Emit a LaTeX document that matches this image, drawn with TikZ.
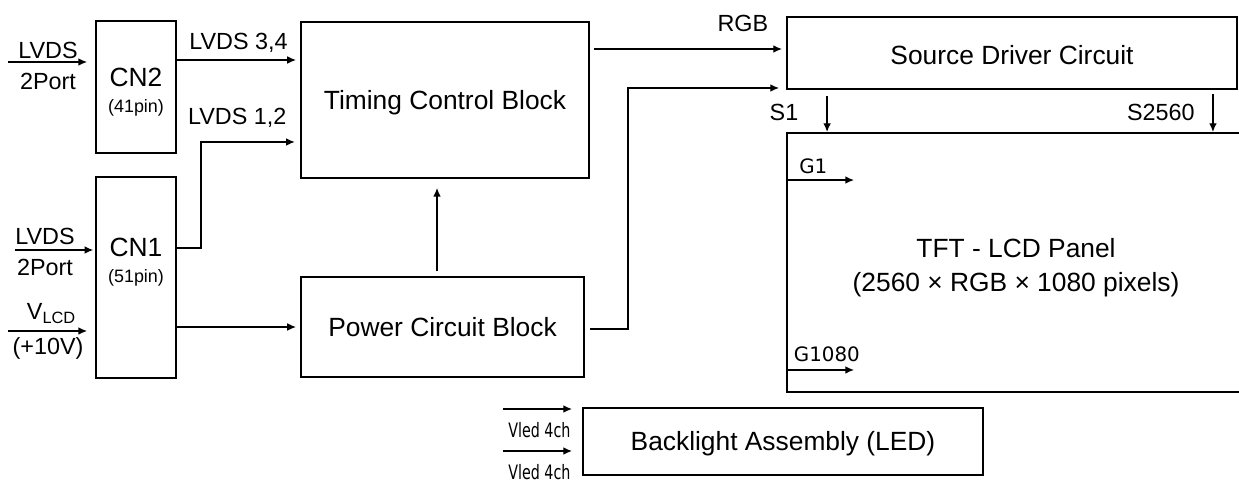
\documentclass[tikz,border=0pt]{standalone}
\usepackage{fontspec}
\setmainfont{Liberation Sans}
\newfontfamily\gatefont{DejaVu Sans}
\newfontfamily\ledfont[FakeStretch=0.72]{DejaVu Sans}
\usetikzlibrary{arrows.meta, positioning}

\begin{document}
\begin{tikzpicture}[x=0.02cm, y=-0.02cm,
    blk/.style={draw, line width=1.1pt, inner sep=0pt, align=center, font=\fontsize{15}{18}\selectfont},
    one/.style={text height=10.7pt, text depth=0pt},
    txt/.style={align=center, inner sep=0pt, font=\fontsize{15}{18}\selectfont},
    sig/.style={line width=0.8pt, -{Latex[length=5pt,width=4.4pt]}},
    lbl/.style={inner sep=0pt, font=\fontsize{13.3}{16}\selectfont},
    gate/.style={inner sep=0pt, font=\gatefont\fontsize{11.3}{13}\selectfont},
    vled/.style={inner sep=0pt, font=\ledfont\fontsize{11.3}{13}\selectfont}]
    \useasboundingbox (0,0) rectangle (1239,482);

    % Connectors
    \node[blk, minimum width=1.6cm, minimum height=2.64cm] (cn2) at (136,87) {};
    \node[txt] (cn2txt) at (136,92) {CN2\\[-3pt]{\fontsize{10.2}{12}\selectfont(41pin)}};
    \node[blk, minimum width=1.6cm, minimum height=4.02cm] (cn1) at (136,277.5) {};
    \node[txt] (cn1txt) at (136,262) {CN1\\[-3pt]{\fontsize{10.2}{12}\selectfont(51pin)}};

    % Blocks
    \node[blk, one, minimum width=5.76cm, minimum height=3.12cm] (tcon) at (445,100) {Timing Control Block};
    \node[blk, one, minimum width=5.66cm, minimum height=2.0cm] (pwr) at (442.5,327) {Power Circuit Block};
    \node[blk, minimum width=9.0cm, minimum height=1.44cm] (src) at (1012,53) {};
    \node[txt, one] (srctxt) at (1012,55.5) {Source Driver Circuit};
    \node[blk, minimum width=9.12cm, minimum height=5.18cm] (lcd) at (1015,262.5) {};
    \node[txt] (lcdtxt) at (1016,268) {TFT - LCD Panel\\[1.2pt](2560 × RGB × 1080 pixels)};
    \node[blk, one, minimum width=8cm, minimum height=1.34cm] (bl) at (783,441.5) {Backlight Assembly (LED)};

    % Inputs
    \coordinate (in2) at (8,62);
    \draw[sig, shorten >=4.5pt] (in2) -- (in2 -| cn2.west)
        node[lbl, pos=0.46, above=1.7pt] (l2a) {LVDS}
        node[lbl, pos=0.46, below=6.2pt] (l2b) {2Port};
    \coordinate (in1) at (15,250);
    \draw[sig, shorten >=1pt] (in1) -- (in1 -| cn1.west)
        node[lbl, pos=0.375, above=2.8pt] (l1a) {LVDS}
        node[lbl, pos=0.375, below=5.1pt] (l1b) {2Port};
    \coordinate (vin) at (8,331);
    \draw[sig, shorten >=4.5pt] (vin) -- (vin -| cn1.west)
        node[lbl, pos=0.5, above=4pt] (lva) {V\textsubscript{LCD}}
        node[lbl, pos=0.46, below=3.4pt] (lvb) {(+10V)};

    % Connectors to blocks
    \coordinate (c2out) at ([yshift=0.54cm]cn2.east);
    \draw[sig, shorten >=2.3pt] (c2out) -- (c2out -| tcon.west)
        node[lbl, midway, above=3.7pt] (l34) {LVDS 3,4};
    \coordinate (c1out) at ([yshift=0.59cm]cn1.east);
    \coordinate (tin2) at ([yshift=-0.84cm]tcon.west);
    \draw[sig, shorten >=3pt] (c1out) -- ++(24,0) |- (tin2)
        node[lbl, pos=0.683, above=7.6pt] (l12) {LVDS 1,2};
    \draw[sig, shorten >=2.3pt] (cn1.east |- pwr.west) -- (pwr.west);

    % Power and timing outputs
    \coordinate (pup) at ([xshift=-0.11cm]pwr.north);
    \draw[sig, shorten <=2.8pt, shorten >=5.1pt] (pup) -- (pup |- tcon.south);
    \coordinate (rgbout) at ([yshift=1.02cm]tcon.east);
    \draw[sig, shorten <=2.3pt, shorten >=2.3pt] (rgbout) -- (rgbout -| src.west)
        node[lbl, pos=0.78, above=9.6pt] (lrgb) {RGB};
    \coordinate (pout) at ([yshift=-0.04cm]pwr.east);
    \coordinate (sin2) at ([yshift=-0.7cm]src.west);
    \draw[sig, shorten <=2.8pt, shorten >=4pt] (pout) -- ++(43,0) |- (sin2);

    % Source lines
    \coordinate (s1) at ([xshift=0.82cm]src.south west);
    \draw[sig, shorten <=3.4pt] (s1) -- (s1 |- lcd.north)
        node[lbl, pos=0.53, left=16pt] (ls1) {S1};
    \coordinate (sn) at ([xshift=-0.5cm]src.south east);
    \draw[sig, shorten <=2.3pt] (sn) -- (sn |- lcd.north)
        node[lbl, pos=0.53, left=10pt] (lsn) {S2560};

    % Gate lines
    \coordinate (g1) at ([yshift=-0.96cm]lcd.north west);
    \coordinate (g1e) at ([xshift=1.36cm]g1);
    \draw[sig] (g1) -- (g1e) node[gate, pos=0.4, above=3.4pt] (lg1) {G1};
    \coordinate (gn) at ([yshift=0.46cm]lcd.south west);
    \coordinate (gne) at ([xshift=1.36cm]gn);
    \draw[sig] (gn) -- (gne) node[gate, pos=0.6, above=4pt] (lgn) {G1080};

    % Backlight inputs
    \foreach \y/\n in {409/1, 451/2} {
        \coordinate (vl\n) at (503,\y);
        \draw[sig, shorten >=5.7pt] (vl\n) -- (vl\n -| bl.west)
            node[vled, pos=0.46, below=7.4pt] (lvl\n) {Vled 4ch};
    }
\end{tikzpicture}
\end{document}
